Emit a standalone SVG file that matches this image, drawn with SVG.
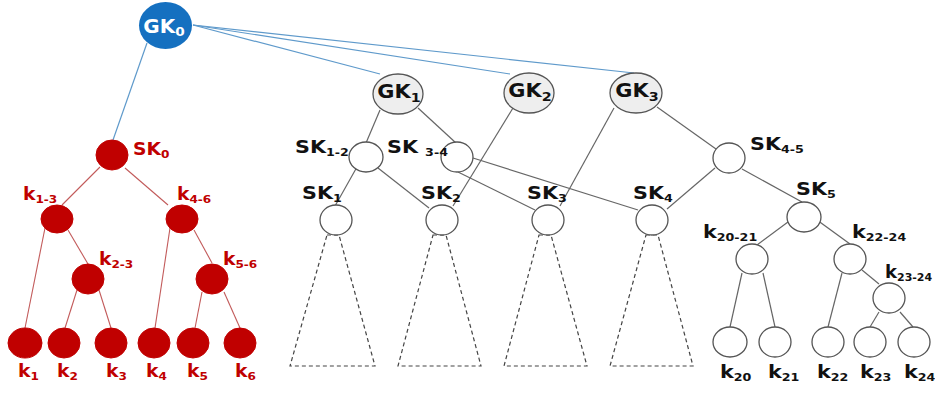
<svg xmlns="http://www.w3.org/2000/svg" width="935" height="393" viewBox="0 0 935 393">
<style>
.bl{stroke:#5f9acb;stroke-width:1.2;fill:none}
.gl{stroke:#666;stroke-width:1.2;fill:none}
.rl{stroke:#c25a5a;stroke-width:1.1;fill:none}
.dt{stroke:#444;stroke-width:1.2;fill:none;stroke-dasharray:4 3}
.wn{fill:#fff;stroke:#555;stroke-width:1.3}
.gn{fill:#eeeeee;stroke:#555;stroke-width:1.3}
.rn{fill:#c00000;stroke:#c00000;stroke-width:1}
.t{font-family:"DejaVu Sans",Verdana,sans-serif;font-weight:bold;font-size:18px;fill:#111}
.r{fill:#c00000;font-size:17px}
.g{font-size:19px;text-anchor:middle}
.w{fill:#fff}
.s{font-size:11px}
.gs{font-size:13px}
</style>
<g id="connectors">
<line class="bl" x1="147" y1="43" x2="113" y2="140"/>
<line class="bl" x1="193" y1="25" x2="380" y2="74"/>
<line class="bl" x1="193" y1="25" x2="510" y2="74"/>
<line class="bl" x1="193" y1="25" x2="634" y2="73"/>
<line class="rl" x1="100" y1="167" x2="62" y2="205"/>
<line class="rl" x1="125" y1="168" x2="168" y2="205"/>
<line class="rl" x1="45" y1="228" x2="25" y2="328"/>
<line class="rl" x1="68" y1="230" x2="88" y2="264"/>
<line class="rl" x1="77" y1="290" x2="65" y2="328"/>
<line class="rl" x1="99" y1="290" x2="111" y2="328"/>
<line class="rl" x1="170" y1="228" x2="155" y2="328"/>
<line class="rl" x1="194" y1="230" x2="212" y2="263"/>
<line class="rl" x1="202" y1="292" x2="195" y2="328"/>
<line class="rl" x1="224" y1="292" x2="240" y2="328"/>
<line class="gl" x1="380" y1="110" x2="366" y2="143"/>
<line class="gl" x1="418" y1="108" x2="456" y2="143"/>
<line class="gl" x1="513" y1="108" x2="453" y2="206"/>
<line class="gl" x1="614" y1="108" x2="560" y2="206"/>
<line class="gl" x1="657" y1="107" x2="716" y2="149"/>
<line class="gl" x1="357" y1="167" x2="335" y2="206"/>
<line class="gl" x1="378" y1="168" x2="429" y2="208"/>
<line class="gl" x1="458" y1="172" x2="535" y2="210"/>
<line class="gl" x1="473" y1="158" x2="638" y2="210"/>
<line class="gl" x1="715" y1="168" x2="667" y2="209"/>
<line class="gl" x1="742" y1="169" x2="802" y2="202"/>
<line class="gl" x1="792" y1="219" x2="757" y2="245"/>
<line class="gl" x1="817" y1="220" x2="850" y2="244"/>
<line class="gl" x1="742" y1="273" x2="730" y2="327"/>
<line class="gl" x1="763" y1="273" x2="775" y2="327"/>
<line class="gl" x1="842" y1="273" x2="828" y2="327"/>
<line class="gl" x1="862" y1="270" x2="879" y2="284"/>
<line class="gl" x1="879" y1="312" x2="870" y2="327"/>
<line class="gl" x1="900" y1="312" x2="913" y2="327"/>
<polygon class="dt" points="327,235 339,235 375,366 290,366"/>
<polygon class="dt" points="433,235 446,235 481,366 398,366"/>
<polygon class="dt" points="539,235 551,235 587,366 504,366"/>
<polygon class="dt" points="646,235 658,235 693,366 610,366"/>
</g>
<g id="GK0"><ellipse fill="#1570c0" cx="165.5" cy="25.5" rx="26.5" ry="23.5"/><text class="t g w" transform="translate(164,33) scale(1.05,1)">GK<tspan class="gs" dy="3">0</tspan></text></g>
<g id="GK1"><ellipse class="gn" cx="398" cy="94" rx="25" ry="20"/><text class="t g" transform="translate(399,98) scale(1.1,1)">GK<tspan class="gs" dy="4">1</tspan></text></g>
<g id="GK2"><ellipse class="gn" cx="529" cy="93" rx="25" ry="20"/><text class="t g" transform="translate(530,97) scale(1.1,1)">GK<tspan class="gs" dy="4">2</tspan></text></g>
<g id="GK3"><ellipse class="gn" cx="636" cy="93" rx="26" ry="20"/><text class="t g" transform="translate(637,97) scale(1.1,1)">GK<tspan class="gs" dy="4">3</tspan></text></g>
<g id="SK0"><ellipse class="rn" cx="112" cy="155" rx="16" ry="15"/><text class="t r" transform="translate(133,155) scale(1.1,1)">SK<tspan class="s" dy="3">0</tspan></text></g>
<g id="k1-3"><ellipse class="rn" cx="57" cy="219" rx="16" ry="14"/><text class="t r" transform="translate(23,200) scale(1.1,1)">k<tspan class="s" dy="3">1-3</tspan></text></g>
<g id="k4-6"><ellipse class="rn" cx="182" cy="219" rx="16" ry="14"/><text class="t r" transform="translate(177,200) scale(1.1,1)">k<tspan class="s" dy="3">4-6</tspan></text></g>
<g id="k2-3"><ellipse class="rn" cx="88" cy="279" rx="16" ry="15"/><text class="t r" transform="translate(99,265) scale(1.1,1)">k<tspan class="s" dy="3">2-3</tspan></text></g>
<g id="k5-6"><ellipse class="rn" cx="212" cy="279" rx="16" ry="15"/><text class="t r" transform="translate(223,265) scale(1.1,1)">k<tspan class="s" dy="3">5-6</tspan></text></g>
<g id="k1"><ellipse class="rn" cx="25" cy="343" rx="17" ry="15"/><text class="t r" transform="translate(18,377) scale(1.1,1)">k<tspan class="s" dy="3">1</tspan></text></g>
<g id="k2"><ellipse class="rn" cx="64" cy="343" rx="16" ry="15"/><text class="t r" transform="translate(57,377) scale(1.1,1)">k<tspan class="s" dy="3">2</tspan></text></g>
<g id="k3"><ellipse class="rn" cx="111" cy="343" rx="16" ry="15"/><text class="t r" transform="translate(106,377) scale(1.1,1)">k<tspan class="s" dy="3">3</tspan></text></g>
<g id="k4"><ellipse class="rn" cx="154" cy="343" rx="16" ry="15"/><text class="t r" transform="translate(146,377) scale(1.1,1)">k<tspan class="s" dy="3">4</tspan></text></g>
<g id="k5"><ellipse class="rn" cx="193" cy="343" rx="16" ry="15"/><text class="t r" transform="translate(187,377) scale(1.1,1)">k<tspan class="s" dy="3">5</tspan></text></g>
<g id="k6"><ellipse class="rn" cx="240" cy="343" rx="16" ry="15"/><text class="t r" transform="translate(235,377) scale(1.1,1)">k<tspan class="s" dy="3">6</tspan></text></g>
<g id="SK1-2"><ellipse class="wn" cx="366" cy="157" rx="17" ry="15"/><text class="t" transform="translate(295,153) scale(1.15,1)">SK<tspan class="s" dy="3">1-2</tspan></text></g>
<g id="SK3-4"><ellipse class="wn" cx="457" cy="157" rx="16" ry="15"/><text class="t" transform="translate(387,153) scale(1.15,1)">SK <tspan class="s" dy="3">3-4</tspan></text></g>
<g id="SK1"><ellipse class="wn" cx="336" cy="220" rx="16" ry="15"/><text class="t" transform="translate(302,199) scale(1.15,1)">SK<tspan class="s" dy="3">1</tspan></text></g>
<g id="SK2"><ellipse class="wn" cx="442" cy="220" rx="16" ry="15"/><text class="t" transform="translate(421,199) scale(1.15,1)">SK<tspan class="s" dy="3">2</tspan></text></g>
<g id="SK3"><ellipse class="wn" cx="548" cy="220" rx="16" ry="15"/><text class="t" transform="translate(527,199) scale(1.15,1)">SK<tspan class="s" dy="3">3</tspan></text></g>
<g id="SK4"><ellipse class="wn" cx="652" cy="220" rx="16" ry="15"/><text class="t" transform="translate(633,199) scale(1.15,1)">SK<tspan class="s" dy="3">4</tspan></text></g>
<g id="SK4-5"><ellipse class="wn" cx="729" cy="158" rx="16" ry="15"/><text class="t" transform="translate(750,150) scale(1.15,1)">SK<tspan class="s" dy="3">4-5</tspan></text></g>
<g id="SK5"><ellipse class="wn" cx="804" cy="217" rx="17" ry="15"/><text class="t" transform="translate(796,195) scale(1.15,1)">SK<tspan class="s" dy="3">5</tspan></text></g>
<g id="k20-21"><ellipse class="wn" cx="752" cy="259" rx="16" ry="15"/><text class="t" transform="translate(703,238) scale(1.15,1)">k<tspan class="s" dy="3">20-21</tspan></text></g>
<g id="k22-24"><ellipse class="wn" cx="850" cy="259" rx="16" ry="15"/><text class="t" transform="translate(852,238) scale(1.15,1)">k<tspan class="s" dy="3">22-24</tspan></text></g>
<g id="k23-24"><ellipse class="wn" cx="889" cy="298" rx="16" ry="15"/><text class="t" transform="translate(885,278) scale(1,1)">k<tspan class="s" dy="3">23-24</tspan></text></g>
<g id="k20"><ellipse class="wn" cx="730" cy="342" rx="17" ry="15"/><text class="t" transform="translate(720,378) scale(1.15,1)">k<tspan class="s" dy="3">20</tspan></text></g>
<g id="k21"><ellipse class="wn" cx="775" cy="342" rx="16" ry="15"/><text class="t" transform="translate(768,378) scale(1.15,1)">k<tspan class="s" dy="3">21</tspan></text></g>
<g id="k22"><ellipse class="wn" cx="828" cy="342" rx="16" ry="15"/><text class="t" transform="translate(817,378) scale(1.15,1)">k<tspan class="s" dy="3">22</tspan></text></g>
<g id="k23"><ellipse class="wn" cx="870" cy="342" rx="16" ry="15"/><text class="t" transform="translate(860,378) scale(1.15,1)">k<tspan class="s" dy="3">23</tspan></text></g>
<g id="k24"><ellipse class="wn" cx="914" cy="342" rx="16" ry="15"/><text class="t" transform="translate(904,378) scale(1.15,1)">k<tspan class="s" dy="3">24</tspan></text></g>
</svg>
